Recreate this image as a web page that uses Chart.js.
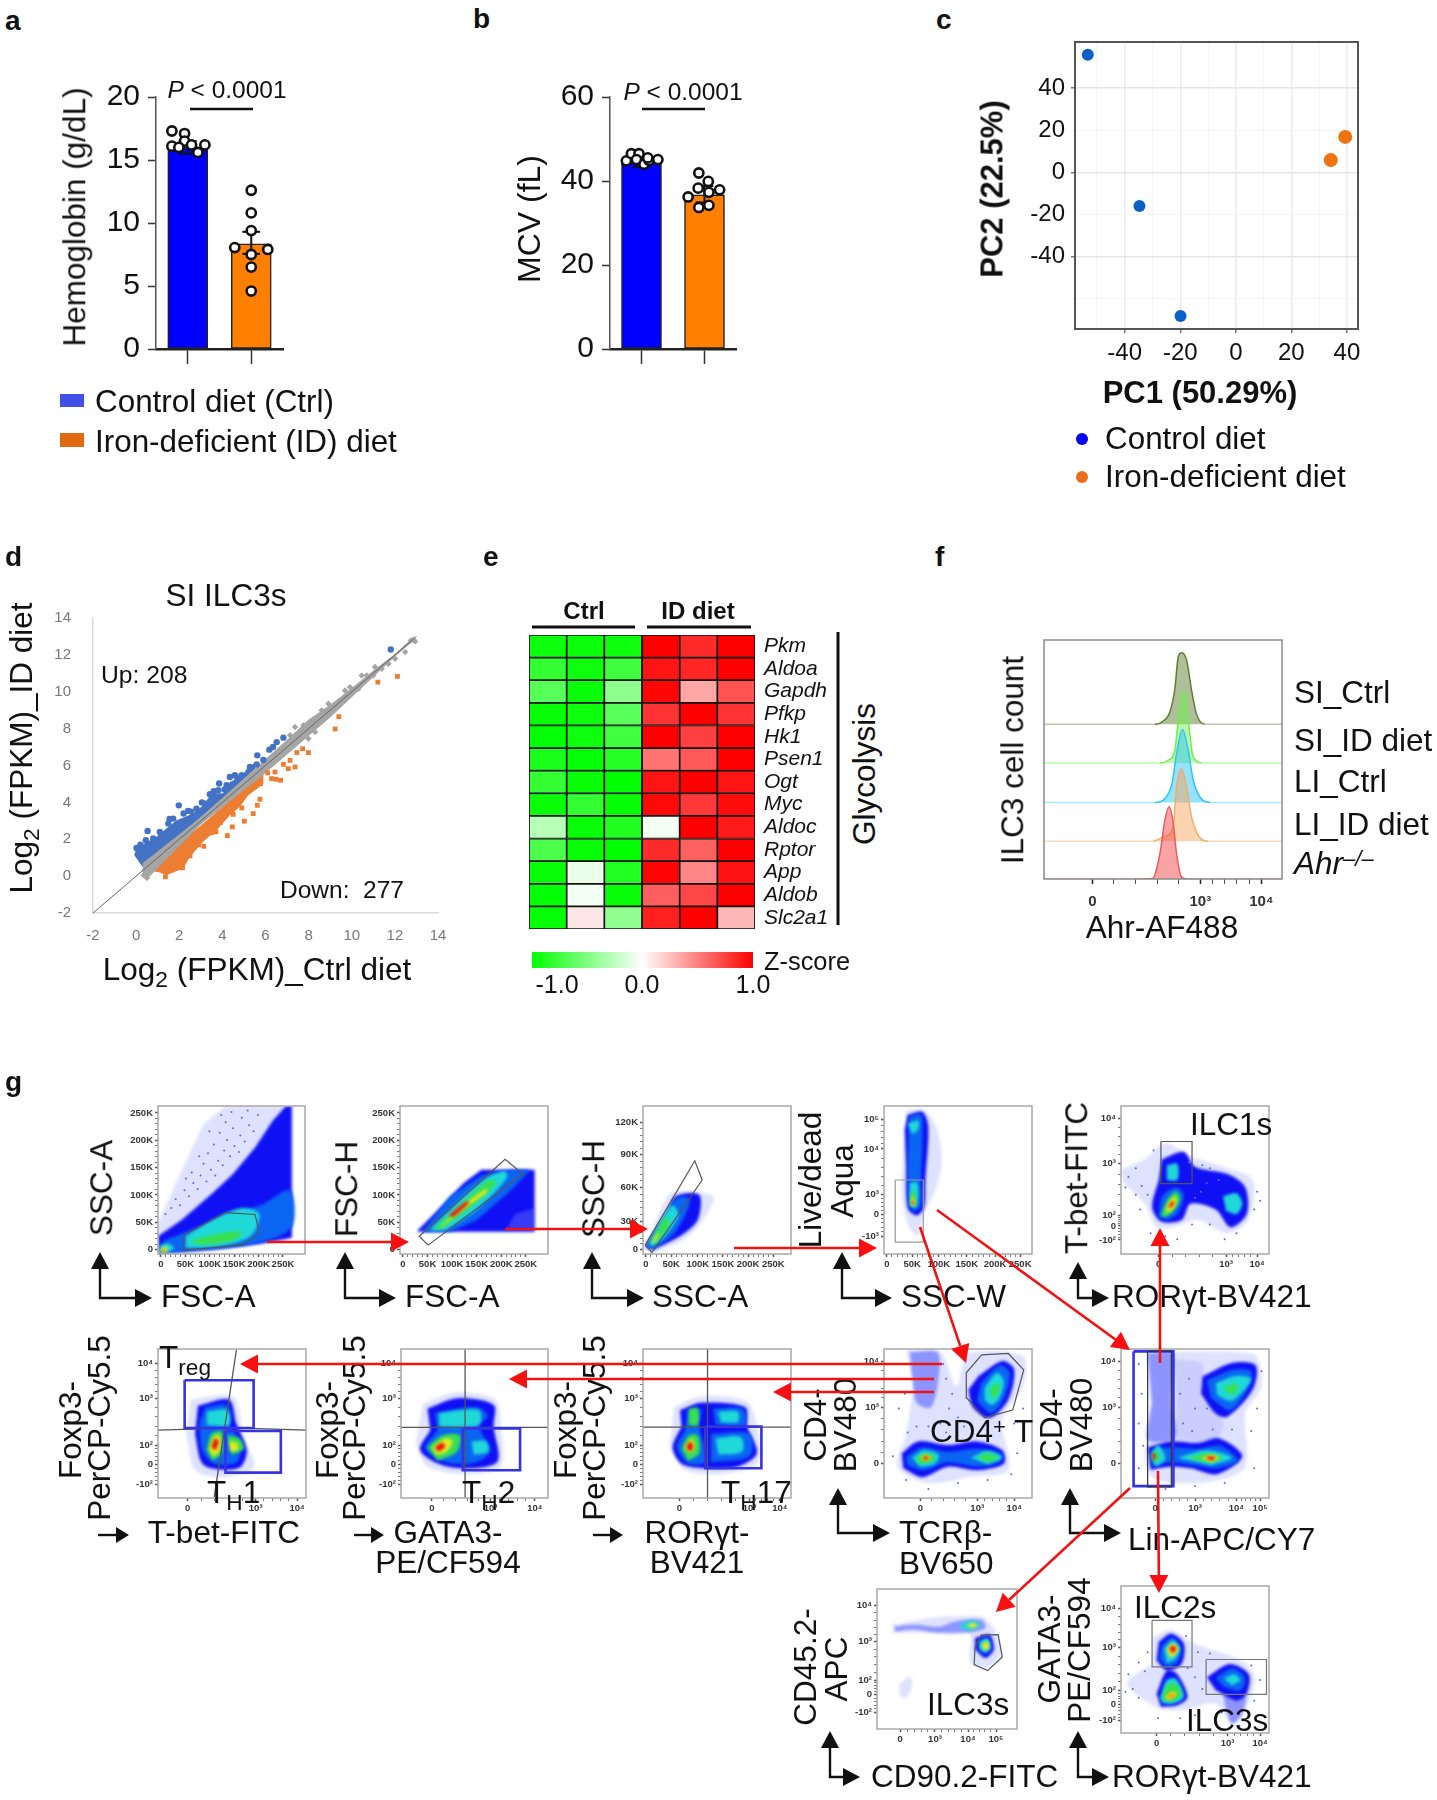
<!DOCTYPE html>
<html>
<head>
<meta charset="utf-8">
<title>Iron-deficient diet and ILC3s</title>
<script src="https://cdn.jsdelivr.net/npm/chart.js"></script>
<style>
  body { margin: 0; background: #fff; }
  #page { position: relative; width: 1437px; height: 1800px; overflow: hidden; font-family: "Liberation Sans", Arial, sans-serif; color: #111; }
  canvas { position: absolute; }
  .t { position: absolute; white-space: nowrap; line-height: 1; }
  sub { font-size: .72em; line-height: 0; vertical-align: -.28em; }
  sup { font-size: .7em; line-height: 0; vertical-align: .38em; }
  #overlay { position: absolute; left: 0; top: 0; }
</style>
</head>
<body>
<div id="page"></div>
<script>
// ---- data ----

// a: hemoglobin
const hbBars = [16.0, 8.35];
const hbCtrl = [[.75,17.3],[.95,17.1],[.75,16.1],[.95,16.5],[1.06,16.2],[1.16,15.6],[1.27,16.2],[.86,16.0]];
const hbIron = [[2,12.6],[2,10.8],[2,9.4],[1.74,8.05],[2.26,7.9],[2,7.5],[2,6.5],[2,4.6]];
const hbErr = [[16.0,16.5,15.5],[8.35,9.3,7.55]];
const hbTicks = [0,5,10,15,20];

// b: MCV
const mcvBars = [44.3, 36.7];
const mcvCtrl = [[.76,44.8],[.84,46.5],[.96,46.5],[.92,45.1],[1.04,44],[1.12,44.9],[1.26,45.1],[1.1,45.5]];
const mcvIron = [[1.91,41.9],[2.06,39.9],[1.9,38.3],[2.24,37.9],[2.07,37.3],[1.74,36.2],[1.91,33.7],[2.07,34.2]];
const mcvErr = [[44.3,45.2,43.4],[36.7,38.8,34.9]];
const mcvTicks = [0,20,40,60];

// c: PCA
const pcaControl = [[-53.3,55.7],[-34.7,-16],[-19.9,-68.1]];
const pcaIron = [[39.4,16.8],[34.2,5.8]];
const pcaXTicks = [-50,-40,-30,-20,-10,0,10,20,30,40];
const pcaYTicks = [-60,-40,-20,0,20,40];

// d: expression scatter
const maUp = [[11.81,12.29],[6.83,7.51],[6.52,7.27],[6.18,6.86],[5.62,6.55],[5.59,6.06],[5.28,5.92],[4.89,5.47],[4.58,5.47],[4.35,5.38],[4.2,4.93],[3.85,5.02],[3.81,4.66],[3.42,4.44],[3.19,3.93],[1.98,3.84],[1.72,3.12],[1.49,2.85],[.53,2.45],[.02,1.53],[1.21,2.22],[.79,2.04],[2.41,3.54],[2.8,3.66],[6.35,7.0],[5.9,6.3],[4.7,5.3],[4.1,4.7],[3.6,4.6],[3.05,4.0],[2.55,3.5],[2.2,3.4],[1.55,3.1],[1.1,2.4],[.45,1.95],[.2,1.7]];
const maDown = [[12.12,10.83],[11.21,10.52],[9.4,8.65],[9.23,7.98],[7.99,6.7],[7.72,6.91],[7.45,6.7],[7.37,5.92],[7.14,6.28],[7.06,5.83],[6.83,6.06],[6.7,5.2],[6.44,5.65],[6.28,5.29],[5.77,5.02],[5.74,4.17],[5.62,3.84],[5.43,3.39],[5.02,2.98],[4.46,2.67],[4.23,2.2],[3.7,2.4],[3.14,1.62],[1.36,-.04],[6.1,5.6],[6.5,5.25],[5.5,4.85],[4.9,3.7],[4.5,3.35],[3.9,2.9],[3.5,2.35],[2.9,1.7],[2.5,1.1],[2.15,.45],[1.8,.42]];
const maFlat = [[12.86,12.82],[12.74,12.78],[12.94,12.73],[12.48,12.15],[12.01,11.79],[11.7,11.52],[11.39,11.25],[11.08,11.34],[10.7,10.88],[10.46,10.88],[11,10.88],[10.31,10.16],[9.92,10.25],[9.69,10.07],[8.92,9.35],[8.6,8.99],[8.3,7.82],[7.99,7.45],[7.37,8.09],[7.76,8.18],[7.14,7.64],[.5,-.1],[.35,.05]];
const maFlatBand = [.3,.7, 3,3.2, 6,6.35, 7,7.4, 8,8.5, 9,9.3, 10,10.2, 11,11.15, 12,12.05, 12.8,12.9, 12.8,12.7, 12,11.9, 11,10.8, 10,9.7, 9,8.6, 8,7.6, 7,6.6, 6,5.6, 3,2.8, .6,-.05, .3,.1];
const maUpBand = [-.09,1.14, .05,1.59, .25,1.68, .94,2.13, 1.49,2.67, 1.87,3.03, 2.65,3.39, 3.11,3.84, 3.5,4.48, 4.04,4.5, 4.35,5.1, 4.89,5.4, 5.2,5.92, 5.59,6.19, 5.5,5.7, 3,3.2, 1,1.2, .3,.5];
const maDownBand = [.6,.3, 1.1,.2, 1.4,.05, 2.18,.41, 2.5,1.05, 3.1,1.86, 3.73,2.49, 4.35,3.3, 4.8,3.75, 5.2,4.39, 5.9,5.0, 5.9,5.65, 3,2.75, 1,.8];
const maTicks = [-2,0,2,4,6,8,10,12,14];
const maLine = [[-2,-2],[13,13]];

// e: glycolysis heat map (Ctrl x3, ID diet x3)
const genes = ['Pkm','Aldoa','Gapdh','Pfkp','Hk1','Psen1','Ogt','Myc','Aldoc','Rptor','App','Aldob','Slc2a1'];
const zScores = [
  [-.95,-.96,-.95,1,.83,1],
  [-.8,-.95,-.75,.92,.85,1],
  [-.65,-.97,-.45,.98,.35,.68],
  [-.97,-.95,-.65,.8,1,.8],
  [-.98,-.95,-.75,1,.75,1],
  [-.9,-.98,-.85,.55,.65,1],
  [-.8,-.97,-1,.92,1,.92],
  [-.97,-.8,-.98,.97,.78,.95],
  [-.28,-.97,-.87,-.05,1,.9],
  [-.7,-.97,-1,.83,.62,1],
  [-.97,-.08,-.87,.98,.47,.93],
  [-.98,-.05,-.97,.63,.72,1],
  [-.98,.1,-.43,.88,1,.28]
];

// f: Ahr histograms, one ridge per group
const ridgeXTicks = [[20.3,'0'],[65.7,'10³'],[91.3,'10⁴']];
const siCtrlHist = [[0,64.7],[46.6,64.7],[50.1,66.1],[52.9,69.9],[55,79.7],[56.4,93],[57.8,94.7],[59.9,91.7],[62,79],[64,69.2],[67.6,64.7],[100,64.7]];
const siIronHist = [[0,48.5],[48.7,48.5],[52.2,49.7],[55,53.9],[56.4,66.5],[58.7,78.4],[60.6,66.5],[62.2,53.2],[64,49.4],[66.2,48.5],[100,48.5]];
const liCtrlHist = [[0,32],[46.6,32],[50.8,33.7],[53.8,40],[55.7,52.5],[58.2,62.6],[60.6,53.9],[62.7,41.3],[65.5,34.3],[69.9,32],[100,32]];
const liIronHist = [[0,15.8],[45.9,15.8],[50.1,17.6],[54.3,21.8],[55.7,38.5],[57.8,45.9],[59.9,38.5],[62,26],[64.8,18.3],[69,15.8],[100,15.8]];
const ahrKoHist = [[0,0],[38.9,0],[45.6,.2],[48.7,10.6],[50.8,24.6],[52.6,30.2],[54.3,23.2],[55.7,10.6],[57.8,.8],[60,0],[100,0]];

// g: flow plots, axis position 0-100 on the transformed scale, each density
// level is an outline, as flat x,y lists
const kTicksA = [[2,'0'],[18.6,'50K'],[35.2,'100K'],[51.8,'150K'],[68.4,'200K'],[85,'250K']];
const kTicksAy = [[3,'0'],[21.5,'50K'],[39.9,'100K'],[58.4,'150K'],[76.8,'200K'],[95.3,'250K']];
const kTicksB = [[2,'0'],[19,'50K'],[37,'100K'],[54,'150K'],[71,'200K'],[88,'250K']];
const kTicksBy = [[3,'0'],[22,'30K'],[45,'60K'],[67,'90K'],[89,'120K']];
const kTicksC = [[2,'0'],[19,'50K'],[37,'100K'],[56,'150K'],[75,'200K'],[92,'250K']];
const aquaTicks = [[12,'-10³'],[27,'0'],[40,'10³'],[71,'10⁴'],[91,'10⁵']];
const tbetXTicks = [[25.5,'0'],[71,'10³'],[92,'10⁴']];
const tbetYTicks = [[9.5,'-10²'],[19,'0'],[26,'10²'],[61,'10³'],[91.5,'10⁴']];
const foxYTicks = [[9,'-10²'],[22.7,'0'],[35.5,'10²'],[67,'10³'],[90.6,'10⁴']];
const th1XTicks = [[20,'0'],[66,'10³'],[94,'10⁴']];
const th2XTicks = [[21,'0'],[61,'10³'],[91,'10⁴']];
const th17XTicks = [[24.6,'0'],[72,'10³'],[92.5,'10⁴']];
const tcrXTicks = [[24.6,'0'],[63,'10³'],[88,'10⁴']];
const cd4YTicks = [[23,'0'],[61,'10³'],[91.7,'10⁴']];
const linXTicks = [[23,'0'],[50,'10³'],[78,'10⁴'],[94,'10⁵']];
const cd90XTicks = [[16.5,'0'],[41.4,'10³'],[65,'10⁴'],[85,'10⁵']];
const cd45YTicks = [[12,'-10²'],[24.5,'0'],[35,'10²'],[62.6,'10³'],[88,'10⁴']];
const gataXTicks = [[24,'0'],[72,'10³'],[94,'10⁴']];
const gataYTicks = [[8.6,'-10²'],[19.3,'0'],[29,'10²'],[58,'10³'],[84.6,'10⁴']];

const scHalo = [0,21, 13,50, 31,88, 46,100, 91,100, 91,12, 87,9, 22,2, 0,0];
const scBlue = [0,12, 16,23, 37,41, 51,54, 66,72, 78,90, 87,100, 91,100, 91,11, 69,7, 37,3, 1,.5];
const scBright = [4,9, 22,16, 51,27, 72,34, 90,43, 91,18, 66,7, 22,2, 1,1];
const scCyan = [19,12, 37,23, 57,31, 69,27, 63,12, 40,5, 19,4];
const scGreen = [22,9, 43,14, 57,15, 51,9, 28,6];
const scDebris = [1.5,6, 7,7, 11,4, 4,.5, 1,1];
const scDebrisIn = [2,4, 6,5, 6,1.5, 2,1];
const scDebrisHot = [2.5,2, 4.5,2.5, 4,1];
const scGate = [17.6,12.8, 46,28, 66,26.7, 69,14.4, 57.3,6, 17.6,2.7];
const scDots = [9,31, 12,37, 15,33, 18,43, 21,39, 24,48, 27,44, 23,55, 29,53, 33,49, 31,61, 36,57, 39,53, 34,68, 41,63, 44,60, 38,74, 45,70, 49,66, 42,82, 47,77, 52,73, 55,69, 46,89, 51,85, 56,80, 59,76, 50,96, 57,92, 62,87, 65,83, 61,97, 68,94, 28,66, 35,83, 43,94, 19,51, 5,27];

const fsBlue = [12,16, 25,29, 43,48, 55,57, 91,57, 91,15, 12,15];
const fsSparse = [72,17, 78,27, 91,31, 91,17];
const fsBright = [15,15, 34,39, 55,53, 75,57, 88,57, 75,43, 52,23, 34,15];
const fsCyan = [20,16, 40,36, 58,51, 71,56, 72,51, 52,30, 31,16];
const fsGreen = [22.5,16.6, 43,35, 60,50, 65,48, 46,30, 28,17];
const fsYellow = [27,18, 43,33, 58,44, 59,42, 44,31, 29,19];
const fsRed = [33,26, 44,35, 47,35, 36,25];
const fsGate = [19,6, 13,12, 71,64, 83,54];

const shHalo = [1,3, 12,30, 20,42, 42,41, 48,38, 40,22, 28,10, 8,1];
const shBlue = [1.5,5, 16,27, 22,39, 38,40, 37,23, 25,12, 7,3];
const shBright = [2,5, 15,27, 23,38, 32,37, 22,15, 7,3];
const shCyan = [4,7, 14,25, 20,33, 24,26, 14,11, 6,5];
const shGreen = [5,7, 11,18, 15,25, 18,20, 10,9];
const shYellow = [6,7, 9,13, 11,14, 8,8];
const shGate = [1.5,6, 35,63, 40,50, 6,1];

const ldHalo = [15,97, 27,97.5, 36,84, 39,61, 34,41, 27,27, 23,12, 17,18, 12,39, 13,72];
const ldBlue = [16,94, 26,96, 30,86, 28,50, 27,31, 22,26, 16,31, 15,61, 14,84];
const ldBright = [17,93, 25,94, 26,81, 25,50, 25,33, 20,29, 17,34, 16,61];
const ldCyanTop = [16,88, 23,90, 23,84, 19,81];
const ldCyan = [17.5,48, 22.6,48, 22,32, 17.5,32];
const ldGreen = [18,42, 21,42, 21,33, 18,33];
const ldYellow = [18.5,38, 20.5,38, 20.5,33, 18.5,33];
const ldRed = [19,36, 20.2,36, 20.2,33.5, 19,33.5];
const ldGate = [7.6,50, 26.5,50, 26.5,8, 7.6,8];

const ilc1Halo = [0,57, 16,64, 30,75, 47,66, 69,59, 89,50, 86,23, 72,14, 52,23, 35,18, 24,18, 16,34, 1.4,48];
const ilc1Blue = [27.5,64, 42.5,69, 50,59, 72,54, 84,45, 85,27, 74,18, 64,30, 47,34, 41,23, 27,22, 21,32, 25.5,50];
const ilc1Bright = [25.5,25, 28,39, 37,45, 42.5,40, 38,27, 31,23];
const ilc1CyanUp = [31,60, 38,61, 38,50, 31,50];
const ilc1CyanRight = [69,39, 78,41, 82,34, 78,27, 71,29];
const ilc1Green = [27,26, 31,36, 37,42, 40,37.5, 35,28.5, 30,25];
const ilc1Yellow = [30,28.5, 33,36, 37,38.5, 37,33, 33,28.5];
const ilc1Red = [32,32, 35,36, 36,34, 33,31];
const ilc1Gate = [27,76, 48,76, 48,47.6, 27,47.6];
const ilc1Dots = [5,52, 10,58, 3,45, 14,46, 18,40, 10,40, 22,70, 46,62, 55,60, 60,58, 66,50, 92,42, 90,30, 78,14, 70,10, 48,20, 20,14, 30,12, 58,48, 54,42, 50,38, 94,36, 38,10, 60,20, 13,30];

const th1Halo = [22,66, 51,68, 58,41, 65,21, 45,14, 25,19, 19,43];
const th1Blue = [27,62, 48,66, 53,50, 60,32, 56,21, 43,19, 30,23, 25,43];
const th1Bright = [32,61, 47,62, 49,48, 56,37, 53,24, 38,23, 30,32, 28,50];
const th1CyanUp = [33,58, 47,59, 48,49, 33,49];
const th1Green = [33,32, 36,43, 43,44.5, 43,30, 37,25];
const th1Yellow = [34.5,33, 38.5,42, 42,41, 41.5,31, 37,28];
const th1Red = [36,34, 38.5,40, 41,38, 39,32];
const th1GreenRight = [46.5,42, 55,40, 58,33, 50,29];
const th1YellowRight = [48,38, 53,37, 54,32.5, 49,31];
const th1TregGate = [18,79, 64.6,79, 64.6,47, 18,47];
const th1Gate = [45.6,45, 83,45, 83,17, 45.6,17];
const th1Vertical = [53,99.5, 38,.7];
const th1Horizontal = [0,45.6, 51,47, 100,45.6];

const th2Halo = [15,63.6, 38,71, 64,66, 68,48, 68,21, 44.5,16, 18,21, 10,36.6];
const th2Blue = [18,60, 38,67, 63,62.5, 63,48, 66,25, 51,20, 28,22, 13,32, 20,45.6];
const th2Bright = [23,57, 51,61, 59,55, 53,48, 61,32, 51,24, 31,24, 16.5,33, 25,45.6];
const th2CyanUp = [26,57, 53,59, 53,49, 26,48];
const th2CyanRight = [48,38, 58,38, 59,31, 49.5,29];
const th2Green = [18,34, 28,42, 40,42, 38,31, 25,25];
const th2Yellow = [21.5,34, 30,40, 35,38.4, 31,31, 24,29];
const th2Red = [23,34, 28,37, 30,34.4, 25.5,31];
const th2Gate = [42,46.7, 81,46.7, 81,18.6, 42,18.6];
const th2Vertical = [43.6,100, 43.6,0];
const th2Horizontal = [0,47.4, 100,47.4];

const th17Halo = [21,61, 38,68, 70,65, 77,48, 77,23, 51,16, 28,19, 18,34];
const th17Blue = [25,59, 39,64, 69,61, 70.5,48, 77,30, 64,21, 41,20, 26,23, 20,34, 26,48];
const th17BrightLeft = [30,59, 39,60, 38,48, 43,25, 31,23, 23,34, 28.5,45.6];
const th17BrightUp = [47.5,60, 67,60, 69,49, 49,49];
const th17BrightDown = [46,43, 72,43, 72,28, 46,24];
const th17CyanDown = [49,40, 66,41, 67,31, 51,29];
const th17CyanUp = [51,58, 64,58, 64,51, 52.5,51];
const th17GreenUp = [31,60, 37,60, 37,49, 31,49];
const th17GreenDown = [26,33, 31,42, 37,42, 38,30, 30.5,25];
const th17Yellow = [28,34, 33,40, 35,34, 32,30];
const th17Red = [29,34, 32,38, 34,34, 32,31];
const th17Gate = [42,48, 80,48, 80,20, 42,20];
const th17Vertical = [43.6,100, 43.6,0];
const th17Horizontal = [0,47.6, 100,47.6];

const tcrHalo = [15,99.5, 37,99.5, 49,75, 57,97, 94,95, 94,75, 80,52, 84,19, 57,14, 29,10, 9,21, 15,43, 20,75];
const tcrColumn = [17.5,98, 36,98, 37,82, 32,61, 22,64, 19,82];
const tcrBlue = [64,82, 80,92, 88,86, 84,66, 71,53.5, 60,61, 57,72.6];
const tcrBright = [65.5,77, 78,89, 85,84, 81,67, 72.6,57, 63,65];
const tcrCyan = [68,74, 76.5,84, 81,78, 78,67, 72.6,62.5, 68,66];
const tcrGreen = [72,74, 76.5,77, 78,72.6, 74.6,67, 72,69];
const tcrBand = [12,30, 23,38, 43,35.5, 63,38, 80,32, 81,23, 63,18.6, 43,21, 26,14, 13,20];
const tcrBandBright = [15,27.6, 26,34, 43,31, 63,33, 79,30, 78,24, 63,21, 43,24, 27,18.6, 16,22];
const tcrCyanLeft = [19,27, 27,32, 37,29, 34.5,23, 24.6,21];
const tcrGreenLeft = [21.6,27, 28,30, 35,27, 30,23.6, 23,23];
const tcrYellowLeft = [24.6,27, 28,29, 32,27, 28,24.7];
const tcrRedLeft = [26,27, 28,28, 30.6,27, 28,25.4];
const tcrCyanRight = [58.5,27, 70,31.5, 80,27, 70,22.7];
const tcrGreenRight = [63,27, 70,30, 77,27, 70,24];
const tcrGate = [66,96, 84,97, 94.4,86, 87,59, 68,54, 56,67, 55.6,84];
const tcrDots = [10,60, 14,70, 12,80, 12,90, 40,90, 42,80, 46,70, 44,60, 50,54, 54,48, 38,50, 30,48, 22,48, 16,44, 88,50, 90,30, 86,16, 70,12, 50,10, 30,6, 15,12, 6,28, 94,60, 42,44, 58,50];

const linHalo = [18,98, 89,97, 95,75, 84,57, 84,21, 61,11, 24,12, 16,25, 20,52];
const linColumn = [18,97, 35,97, 34,64, 37,41, 18,39, 21,64];
const linMiddle = [37,93, 55,90, 54,68, 69,52, 64,39, 38,39];
const linBlue = [55,81.6, 75,90.6, 91,89, 89,72.6, 72,54.6, 64,56.6, 54,70];
const linBright = [58,79, 76,86, 88,85, 86,74, 74,59, 61,67];
const linCyan = [64,77, 78,82, 88,80, 81,70, 74,65, 65,69];
const linGreen = [69,74, 78,77, 78,71, 74,69];
const linBand = [18,34, 33,38, 52,37, 66.6,40, 82,28, 65,16, 47,20, 33,21, 20,19];
const linBandBright = [20,32, 33,34, 52,33, 67,35, 79,25, 65,20, 49.5,22, 33,24, 21,21];
const linCyanLeft = [20,28, 25,35.5, 30,26.5, 24,21];
const linGreenLeft = [21,27.6, 23,32, 26,27.6, 23,23];
const linRedLeft = [21,28, 22,30.5, 23.5,28, 22,25];
const linCyanRight = [38,27, 58,32, 75,27, 61,22];
const linGreenRight = [45,27, 58,30, 69,27, 61,23.6];
const linYellowRight = [54,26.6, 61,29, 66,27, 61,24];
const linRedRight = [57,27, 61,28, 64,27, 61,25];
const linGate = [18,98.4, 34,98.4, 34,7.4, 18,7.4];
const linBlueGate = [8.5,98.4, 35.4,98.4, 35.4,8, 8.5,8];
const linDots = [12,50, 14,70, 12,90, 15,35, 40,70, 46,80, 50,60, 42,50, 62,46, 75,46, 88,45, 92,60, 95,85, 90,20, 70,10, 50,8, 30,6, 12,20, 58,60, 48,45];

const cd90Halo = [11,74.5, 35.5,79, 59,80.5, 77.5,79, 89.5,56.7, 80.5,44.8, 67,47, 65.5,68.6, 38,68.6, 11,68.6];
const cd90Band = [12.6,73, 26.4,74.5, 44.4,73, 56.5,77, 74.6,78, 77.5,72, 62,68.6, 44,68.6, 26,71, 13,69.6];
const cd90CyanUp = [59.5,74.5, 67,77.6, 74.5,74.5, 67,70.5, 61,71.4];
const cd90YellowUp = [64,74, 68,75.7, 72,74, 67.8,72];
const cd90Blue = [70,65, 80.5,67.4, 83.5,56.7, 77.5,50.7, 70,56.7];
const cd90Cyan = [73,62.6, 79,65, 81.5,57.8, 77.5,54.3, 73,56.7];
const cd90Yellow = [74.5,60, 79,62.6, 80,57.8, 77,56.2];
const cd90Low = [16,31.7, 23.4,37.6, 25,30.5, 20.4,22, 16,24.5];
const cd90Gate = [70,58, 74.5,67, 86.5,67.4, 89.5,51.4, 79,41.7, 69.4,46];

const gataHalo = [21,65, 34,70, 49.6,61, 81,49.4, 90.6,38, 83.6,15.4, 75,6.3, 64,20, 41,15.4, 24,17.7, 4,33.6, 21,47];
const gataBlueUp = [25.5,62, 34,67.6, 42.5,60.8, 41,47, 31,42.6, 24,49.4];
const gataBrightUp = [27.5,59.6, 34.6,65, 40.5,58.5, 38,48, 31,45, 26,50.6];
const gataCyanUp = [29,57.4, 35,63, 39.6,57.4, 37,50.6, 31,47.6];
const gataYellowUp = [31,57.4, 35,61, 39,57.4, 35.4,52, 32.6,52];
const gataRedUp = [32.6,57.4, 35,59.6, 37.4,57.4, 35,54];
const gataBlueDown = [24,26.8, 31,42.6, 38,40, 45,24.5, 38,18.8, 27,17.7];
const gataCyanDown = [26.3,23.4, 31,36, 37,37, 42.5,24.5, 35.4,20, 28.4,20];
const gataGreenDown = [27.8,23.4, 31,32.4, 37,33.6, 40.5,25.6, 34,21];
const gataYellowDown = [29.7,24.5, 34,27.9, 38,26.8, 32.6,22.2];
const gataOrangeDown = [31,25, 35.4,26.8, 36.8,25.6, 32.6,23.4];
const gataBlueRight = [58,38, 73.6,47, 86.4,40, 85,26.8, 78,22, 64,29];
const gataBrightRight = [64,37.4, 75,43.8, 83.6,38, 80.7,29, 69.4,31.3];
const gataCyanRight = [69.4,37, 76.5,40, 80.7,35.8, 75,32.4];
const gataTail = [69,26.8, 83.6,26.8, 82,13, 75,6.3, 71,15.4];
const gataIlc2Gate = [21,76.6, 48,76.6, 48,45, 21,45];
const gataIlc3Gate = [57.5,50, 98.3,50, 98.3,26.3, 57.5,26.3];
const gataDots = [5,40, 8,30, 12,24, 16,42, 12,48, 18,55, 44,66, 52,55, 60,54, 88,46, 94,36, 90,22, 80,5, 68,14, 50,12, 40,10, 25,10, 55,30, 50,38, 45,44, 3,28];

// ---- layout and styles ----
const blue = '#0000ff', orange = '#ff7f00';
const HALO = 'rgba(150,158,255,.3)', PALE = 'rgba(60,70,255,.5)', BLUE = '#1010f5', BRIGHT = '#0a66f2',
      CYAN = '#1fd8d8', GREEN = '#38e050', YELLOW = '#e6e820', ORANGE = '#ff8c00', RED = '#f01010';
const GATE = '#555', BLUEGATE = '#3434e6';

const font = '"Liberation Sans", Arial, sans-serif';
Chart.defaults.font.family = font;
const page = document.getElementById('page');

const frame = {
  id: 'frame',
  afterDraw(c, args, o) {
    const a = c.chartArea, ctx = c.ctx;
    ctx.save();
    ctx.filter = 'none';
    ctx.strokeStyle = o.color || '#a8a8a8';
    ctx.lineWidth = o.width || 1.5;
    ctx.strokeRect(a.left, a.top, a.right - a.left, a.bottom - a.top);
    ctx.restore();
  }
};

// density levels look stepped when crisp, the originals are soft
const soft = {
  id: 'soft',
  beforeDatasetsDraw(c, args, o) { c.ctx.filter = 'blur(' + (o.px || 1.4) + 'px)'; },
  afterDatasetDraw(c, args) {
    const next = c.data.datasets[args.index - 1];
    if (!next || next.crisp) c.ctx.filter = 'none';
  }
};

function mount(box, config, yRight) {
  const M = 90;
  const [l, t, r, b] = box.map(Math.round);
  const canvas = document.createElement('canvas');
  canvas.width = r - l + 2 * M;
  canvas.height = b - t + 2 * M;
  canvas.style.left = (l - M) + 'px';
  canvas.style.top = (t - M) + 'px';
  page.appendChild(canvas);
  const o = config.options;
  o.animation = false;
  o.responsive = false;
  o.layout = { padding: yRight ? { left: M, right: 2, top: M, bottom: 2 } : { left: 2, right: M, top: M, bottom: 2 } };
  o.scales.x.afterFit = s => { s.height = M - 2; };
  o.scales.y.afterFit = s => { s.width = M - 2; };
  o.plugins = Object.assign({ legend: { display: false }, tooltip: { enabled: false } }, o.plugins);
  return new Chart(canvas, config);
}

const pairs = flat => {
  const out = [];
  for (let i = 0; i < flat.length; i += 2) out.push([flat[i], flat[i + 1]]);
  return out;
};

function barPanel(box, bars, ctrl, iron, err, ticks) {
  const errorLines = [];
  err.forEach((e, i) => {
    const x = i + 1;
    [[[x - .14, e[1]], [x + .14, e[1]]], [[x, e[1]], [x, e[2]]], [[x - .14, e[2]], [x + .14, e[2]]]].forEach(seg => {
      errorLines.push({ type: 'scatter', showLine: true, data: seg, borderColor: '#111', borderWidth: 2, pointRadius: 0 });
    });
  });
  const dots = data => ({ type: 'scatter', data, pointRadius: 4.6, pointBorderWidth: 2.6, pointBackgroundColor: '#fff', pointBorderColor: '#111' });
  mount(box, {
    type: 'bar',
    data: {
      datasets: [dots(ctrl), dots(iron), ...errorLines, {
        type: 'bar',
        data: bars.map((v, i) => ({ x: i + 1, y: v })),
        backgroundColor: [blue, orange],
        borderColor: '#222',
        borderWidth: 1.5,
        borderSkipped: false,
        barThickness: 40
      }]
    },
    options: {
      scales: {
        x: {
          type: 'linear', min: .5, max: 2.5, offset: false,
          afterBuildTicks(s) { s.ticks = [{ value: 1 }, { value: 2 }]; },
          ticks: { callback: () => '', padding: 0 },
          grid: { offset: false, drawOnChartArea: false, tickLength: 15, tickColor: '#333', tickWidth: 1.5 },
          border: { color: '#222', width: 2.5 }
        },
        y: {
          type: 'linear', min: 0, max: ticks[ticks.length - 1],
          afterBuildTicks(s) { s.ticks = ticks.map(v => ({ value: v })); },
          ticks: { font: { size: 30 }, color: '#111', padding: 8 },
          grid: { drawOnChartArea: false, tickLength: 8, tickColor: '#333', tickWidth: 1.5 },
          border: { color: '#555', width: 1.5 }
        }
      }
    }
  });
}

barPanel([156, 97, 283, 349], hbBars, hbCtrl, hbIron, hbErr, hbTicks);
barPanel([610, 97, 736, 349], mcvBars, mcvCtrl, mcvIron, mcvErr, mcvTicks);

// c
mount([1075, 42, 1358, 329], {
  type: 'scatter',
  data: {
    datasets: [
      { data: pcaControl, pointRadius: 6, pointBackgroundColor: '#0a5fc8', pointBorderWidth: 0 },
      { data: pcaIron, pointRadius: 7, pointBackgroundColor: '#ef7215', pointBorderWidth: 0 }
    ]
  },
  options: {
    plugins: { frame: { color: '#555', width: 2 } },
    scales: {
      x: {
        type: 'linear', min: -57.9, max: 44,
        afterBuildTicks(s) { s.ticks = pcaXTicks.map(v => ({ value: v })); },
        ticks: { autoSkip: false, maxRotation: 0, font: { size: 24 }, color: '#111', padding: 6, callback: v => v % 20 === 0 ? String(v) : '' },
        grid: {
          color: c => c.tick && c.tick.value % 20 === 0 ? '#ececec' : '#f5f5f5',
          lineWidth: c => c.tick && c.tick.value % 20 === 0 ? 1.5 : 1,
          tickLength: 4,
          tickColor: c => c.tick && c.tick.value % 20 === 0 ? '#777' : 'rgba(0,0,0,0)'
        },
        border: { display: false }
      },
      y: {
        type: 'linear', min: -74.3, max: 61.8,
        afterBuildTicks(s) { s.ticks = pcaYTicks.map(v => ({ value: v })); },
        ticks: { autoSkip: false, font: { size: 24 }, color: '#111', padding: 6, callback: v => v === -60 ? '' : String(v) },
        grid: {
          color: c => c.tick && c.tick.value % 40 === 0 ? '#e6e6e6' : '#f5f5f5',
          lineWidth: c => c.tick && c.tick.value % 40 === 0 ? 1.5 : 1,
          tickLength: 4,
          tickColor: c => c.tick && c.tick.value % 40 === 0 ? '#777' : 'rgba(0,0,0,0)'
        },
        border: { display: false }
      }
    }
  },
  plugins: [frame]
});

// d
const band = (flat, color) => ({ data: pairs(flat), showLine: true, fill: 'shape', backgroundColor: color, borderWidth: 0, borderColor: color, pointRadius: 0, tension: 0 });
mount([93, 618, 438, 913], {
  type: 'scatter',
  data: {
    datasets: [
      { crisp: true, data: maLine, showLine: true, borderColor: '#666', borderWidth: 1, pointRadius: 0 },
      { crisp: true, data: maUp, pointRadius: 3.2, pointBackgroundColor: '#4472c4', pointBorderWidth: 0 },
      { crisp: true, data: maDown, pointStyle: 'rect', pointRadius: 3.4, pointBackgroundColor: '#ed7d31', pointBorderWidth: 0 },
      { crisp: true, data: maFlat, pointStyle: 'rectRot', pointRadius: 3.2, pointBackgroundColor: '#a5a5a5', pointBorderWidth: 0 },
      band(maFlatBand, '#a5a5a5'),
      band(maUpBand, '#4472c4'),
      band(maDownBand, '#ed7d31')
    ]
  },
  options: {
    plugins: { soft: { px: .7 } },
    scales: {
      x: {
        type: 'linear', min: -2, max: 14,
        afterBuildTicks(s) { s.ticks = maTicks.map(v => ({ value: v })); },
        ticks: { font: { size: 15 }, color: '#777', padding: 6, maxRotation: 0 },
        grid: { display: false },
        border: { color: '#d9d9d9', width: 1.5 }
      },
      y: {
        type: 'linear', min: -2, max: 14,
        afterBuildTicks(s) { s.ticks = maTicks.map(v => ({ value: v })); },
        ticks: { font: { size: 15 }, color: '#777', padding: 14 },
        grid: { display: false },
        border: { color: '#d9d9d9', width: 1.5 }
      }
    }
  },
  plugins: [soft]
});

// e
const zColor = z => {
  const k = Math.round(255 * (1 - Math.abs(z)));
  return z < 0 ? 'rgb(' + k + ',255,' + k + ')' : 'rgb(255,' + k + ',' + k + ')';
};
mount([529, 635, 755, 929], {
  type: 'bar',
  data: {
    labels: genes,
    datasets: [0, 1, 2, 3, 4, 5].map(col => ({
      data: genes.map(() => 1),
      backgroundColor: zScores.map(row => zColor(row[col])),
      borderColor: '#111',
      borderWidth: 1.2,
      borderSkipped: false,
      barPercentage: 1,
      categoryPercentage: 1
    }))
  },
  options: {
    indexAxis: 'y',
    scales: {
      x: { type: 'linear', stacked: true, min: 0, max: 6, ticks: { display: false }, grid: { display: false }, border: { display: false } },
      y: {
        type: 'category', stacked: true, position: 'right',
        ticks: { autoSkip: false, font: { size: 21, style: 'italic' }, color: '#111', padding: 9 },
        grid: { display: false, drawTicks: false },
        border: { display: false }
      }
    }
  }
}, true);

// shared axis for f and the flow plots: labelled ticks plus small unlabelled ones between them
function flowAxis(labelled, fontSize, tickLen, pad, tickColor) {
  const names = {};
  labelled.forEach(p => { names[p[0]] = p[1]; });
  return {
    type: 'linear', min: 0, max: 100,
    afterBuildTicks(s) {
      const out = [];
      labelled.forEach((p, i) => {
        out.push({ value: p[0] });
        const nx = labelled[i + 1];
        if (nx) for (let k = 1; k < 5; k++) out.push({ value: p[0] + (nx[0] - p[0]) * k / 5 });
      });
      s.ticks = out;
    },
    ticks: {
      autoSkip: false, maxRotation: 0, minRotation: 0,
      font: { size: fontSize, weight: 'bold' }, color: '#333', padding: pad,
      callback: v => names[v] || ''
    },
    grid: {
      drawOnChartArea: false, tickLength: tickLen, tickColor: tickColor || '#555',
      tickWidth: c => c.tick && names[c.tick.value] ? 1.5 : .8
    },
    border: { display: false }
  };
}

// f
const ridge = (data, line, pale, fill, base) => ({
  data, showLine: true, fill: { value: base }, borderColor: line, backgroundColor: fill,
  borderWidth: 1.5, pointRadius: 0, cubicInterpolationMode: 'monotone',
  segment: { borderColor: c => c.p0.parsed.y === c.p1.parsed.y ? pale : line }
});
mount([1044, 640, 1282, 879], {
  type: 'scatter',
  data: {
    datasets: [
      ridge(ahrKoHist, '#f25a5a', '#f7b5b5', 'rgba(242,90,90,.55)', 0),
      ridge(liIronHist, '#f5ab68', '#f9d8ba', 'rgba(245,170,100,.5)', 15.8),
      ridge(liCtrlHist, '#2cc6f5', '#a8e6fa', 'rgba(44,198,245,.5)', 32),
      ridge(siIronHist, '#6cf04a', '#b8f8a8', 'rgba(108,240,74,.45)', 48.5),
      ridge(siCtrlHist, '#5f7f33', '#bccaa8', 'rgba(95,127,51,.5)', 64.7)
    ]
  },
  options: {
    plugins: { frame: { color: '#8a8a8a', width: 1.5 } },
    scales: {
      x: flowAxis(ridgeXTicks, 15, 5, 9, '#222'),
      y: { type: 'linear', min: 0, max: 100, ticks: { display: false }, grid: { display: false }, border: { display: false } }
    }
  },
  plugins: [frame]
});

// g
// a level may carry a third item: true keeps its outline straight, for regions cut off by the axis range
const flowPanels = [
  { box: [158, 1106, 305, 1254], x: kTicksA, y: kTicksAy, dots: scDots,
    levels: [[HALO, scHalo, true], [BLUE, scBlue, true], [BRIGHT, scBright], [CYAN, scCyan], [GREEN, scGreen], [CYAN, scDebris], [YELLOW, scDebrisIn], [RED, scDebrisHot]],
    gates: [[GATE, 1.2, scGate]] },
  { box: [400, 1106, 548, 1254], x: kTicksA, y: kTicksAy,
    levels: [[BLUE, fsBlue, true], [HALO, fsSparse, true], [BRIGHT, fsBright, true], [CYAN, fsCyan], [GREEN, fsGreen], [YELLOW, fsYellow], [RED, fsRed]],
    gates: [[GATE, 1.2, fsGate]] },
  { box: [643, 1106, 791, 1254], x: kTicksB, y: kTicksBy,
    levels: [[HALO, shHalo], [BLUE, shBlue], [BRIGHT, shBright], [CYAN, shCyan], [GREEN, shGreen], [YELLOW, shYellow]],
    gates: [[GATE, 1.2, shGate]] },
  { box: [884, 1106, 1032, 1254], x: kTicksC, y: aquaTicks,
    levels: [[HALO, ldHalo], [BLUE, ldBlue], [BRIGHT, ldBright], [CYAN, ldCyanTop], [CYAN, ldCyan], [GREEN, ldGreen], [YELLOW, ldYellow], [RED, ldRed]],
    gates: [['#999', 1.2, ldGate]] },
  { box: [1121, 1106, 1269, 1254], x: tbetXTicks, y: tbetYTicks, dots: ilc1Dots,
    levels: [[HALO, ilc1Halo], [BLUE, ilc1Blue], [BRIGHT, ilc1Bright], [CYAN, ilc1CyanUp], [CYAN, ilc1CyanRight], [GREEN, ilc1Green], [YELLOW, ilc1Yellow], [RED, ilc1Red]],
    gates: [[GATE, 1.2, ilc1Gate]] },
  { box: [158, 1349, 306, 1498], x: th1XTicks, y: foxYTicks,
    levels: [[HALO, th1Halo], [BLUE, th1Blue], [BRIGHT, th1Bright], [CYAN, th1CyanUp], [GREEN, th1Green], [YELLOW, th1Yellow], [RED, th1Red], [GREEN, th1GreenRight], [YELLOW, th1YellowRight]],
    gates: [[BLUEGATE, 2.6, th1TregGate], [BLUEGATE, 2.6, th1Gate], ['#555', 1.3, th1Vertical, true], ['#555', 1.3, th1Horizontal, true]] },
  { box: [401, 1349, 548, 1498], x: th2XTicks, y: foxYTicks,
    levels: [[HALO, th2Halo], [BLUE, th2Blue], [BRIGHT, th2Bright], [CYAN, th2CyanUp], [CYAN, th2CyanRight], [GREEN, th2Green], [YELLOW, th2Yellow], [RED, th2Red]],
    gates: [[BLUEGATE, 2.6, th2Gate], ['#555', 1.3, th2Vertical, true], ['#555', 1.3, th2Horizontal, true]] },
  { box: [643, 1349, 791, 1498], x: th17XTicks, y: foxYTicks,
    levels: [[HALO, th17Halo], [BLUE, th17Blue], [BRIGHT, th17BrightLeft], [BRIGHT, th17BrightUp], [BRIGHT, th17BrightDown], [CYAN, th17CyanDown], [CYAN, th17CyanUp], [GREEN, th17GreenUp], [GREEN, th17GreenDown], [YELLOW, th17Yellow], [RED, th17Red]],
    gates: [[BLUEGATE, 2.6, th17Gate], ['#555', 1.3, th17Vertical, true], ['#555', 1.3, th17Horizontal, true]] },
  { box: [884, 1349, 1032, 1498], x: tcrXTicks, y: cd4YTicks, dots: tcrDots,
    levels: [[HALO, tcrHalo], [PALE, tcrColumn], [BLUE, tcrBlue], [BRIGHT, tcrBright], [CYAN, tcrCyan], [GREEN, tcrGreen], [BLUE, tcrBand], [BRIGHT, tcrBandBright], [CYAN, tcrCyanLeft], [GREEN, tcrGreenLeft], [YELLOW, tcrYellowLeft], [RED, tcrRedLeft], [CYAN, tcrCyanRight], [GREEN, tcrGreenRight]],
    gates: [[GATE, 1.2, tcrGate]] },
  { box: [1121, 1349, 1269, 1498], x: linXTicks, y: cd4YTicks, dots: linDots,
    levels: [[HALO, linHalo], [HALO, linMiddle], [PALE, linColumn], [BLUE, linBlue], [BRIGHT, linBright], [CYAN, linCyan], [GREEN, linGreen], [BLUE, linBand], [BRIGHT, linBandBright], [CYAN, linCyanRight], [GREEN, linGreenRight], [YELLOW, linYellowRight], [RED, linRedRight], [CYAN, linCyanLeft], [GREEN, linGreenLeft], [RED, linRedLeft]],
    gates: [['#333', 1.2, linGate], [BLUEGATE, 2.6, linBlueGate]] },
  { box: [877, 1589, 1017, 1729], x: cd90XTicks, y: cd45YTicks,
    levels: [[HALO, cd90Halo], [HALO, cd90Low], [PALE, cd90Band], [CYAN, cd90CyanUp], [YELLOW, cd90YellowUp], [BLUE, cd90Blue], [CYAN, cd90Cyan], [YELLOW, cd90Yellow]],
    gates: [[GATE, 1.2, cd90Gate]] },
  { box: [1121, 1586, 1269, 1733], x: gataXTicks, y: gataYTicks, dots: gataDots,
    levels: [[HALO, gataHalo], [BLUE, gataBlueUp], [BRIGHT, gataBrightUp], [CYAN, gataCyanUp], [YELLOW, gataYellowUp], [RED, gataRedUp], [BLUE, gataBlueDown], [CYAN, gataCyanDown], [GREEN, gataGreenDown], [YELLOW, gataYellowDown], [ORANGE, gataOrangeDown], [PALE, gataTail], [BLUE, gataBlueRight], [BRIGHT, gataBrightRight], [CYAN, gataCyanRight]],
    gates: [['#777', 1.2, gataIlc2Gate], ['#777', 1.2, gataIlc3Gate]] }
];

flowPanels.forEach(p => {
  const gateSets = p.gates.map(g => ({
    crisp: true, showLine: true, pointRadius: 0, borderColor: g[0], borderWidth: g[1], tension: 0,
    data: pairs(g[3] ? g[2] : g[2].concat(g[2].slice(0, 2)))
  }));
  const dotSets = p.dots ? [{ crisp: true, data: pairs(p.dots), pointRadius: 1, pointBackgroundColor: '#5a62ff', pointBorderWidth: 0 }] : [];
  // first dataset is drawn last, so the hottest level goes in front
  const levelSets = p.levels.slice().reverse().map(l => ({
    showLine: true, fill: 'shape', pointRadius: 0, borderWidth: 0, borderColor: l[0], backgroundColor: l[0],
    tension: l[2] ? 0 : .3, data: pairs(l[1])
  }));
  mount(p.box, {
    type: 'scatter',
    data: { datasets: gateSets.concat(dotSets, levelSets) },
    options: {
      plugins: { soft: { px: 1.6 }, frame: { color: '#a8a8a8', width: 1.5 } },
      scales: { x: flowAxis(p.x, 9.5, 3, 2), y: flowAxis(p.y, 9.5, 3, 2) }
    },
    plugins: [soft, frame]
  });
});

// ---- text: [html, x, y, size, anchor, extra css] ; anchor c centre, l left, r rotated ----
const L = 31.5;
const texts = [
  ['a', 5, 21, 28, 'l', 'font-weight:bold'], ['b', 473, 19, 28, 'l', 'font-weight:bold'], ['c', 936, 20, 28, 'l', 'font-weight:bold'],
  ['d', 5, 557, 28, 'l', 'font-weight:bold'], ['e', 483, 557, 28, 'l', 'font-weight:bold'], ['f', 935, 557, 28, 'l', 'font-weight:bold'],
  ['g', 5, 1082, 28, 'l', 'font-weight:bold'],

  ['Hemoglobin (g/dL)', 75, 217, L, 'r'], ['MCV (fL)', 529, 219, 32, 'r'],
  ['<i>P</i> &lt; 0.0001', 227, 90, 24.5, 'c'], ['<i>P</i> &lt; 0.0001', 683, 92, 24.5, 'c'],
  ['Control diet (Ctrl)', 95, 402, 31.4, 'l'], ['Iron-deficient (ID) diet', 95, 442, 31.4, 'l'],

  ['PC2 (22.5%)', 992, 189, 31, 'r', 'font-weight:bold'], ['PC1 (50.29%)', 1200, 392, 31, 'c', 'font-weight:bold'],
  ['Control diet', 1105, 439, 31.4, 'l'], ['Iron-deficient diet', 1105, 477, 31.4, 'l'],

  ['SI ILC3s', 226, 596, L, 'c'], ['Up: 208', 101, 675, 24.7, 'l'], ['Down:&nbsp; 277', 280, 890, 24.5, 'l'],
  ['Log<sub>2</sub> (FPKM)_ID diet', 22, 748, L, 'r'], ['Log<sub>2</sub> (FPKM)_Ctrl diet', 257, 970, L, 'c'],

  ['Ctrl', 584, 611, 24, 'c', 'font-weight:bold'], ['ID diet', 698, 611, 24, 'c', 'font-weight:bold'],
  ['Glycolysis', 865, 774, L, 'r'], ['Z-score', 764, 962, 25.4, 'l'],
  ['-1.0', 557, 984, 25, 'c'], ['0.0', 642, 984, 25, 'c'], ['1.0', 753, 984, 25, 'c'],

  ['ILC3 cell count', 1013, 760, L, 'r'], ['Ahr-AF488', 1162, 928, L, 'c'],
  ['SI_Ctrl', 1294, 693, L, 'l'], ['SI_ID diet', 1294, 741, L, 'l'], ['LI_Ctrl', 1294, 782, L, 'l'], ['LI_ID diet', 1294, 825, L, 'l'],
  ['<i>Ahr<sup>–/–</sup></i>', 1294, 864, L, 'l'],

  ['SSC-A', 102, 1188, L, 'r'], ['FSC-H', 347, 1189, L, 'r'], ['SSC-H', 594, 1189, L, 'r'],
  ['Live/dead', 811, 1180, L, 'r'], ['Aqua', 843, 1181, L, 'r'], ['T-bet-FITC', 1077, 1178, L, 'r'],
  ['FSC-A', 161, 1297, L, 'l'], ['FSC-A', 405, 1297, L, 'l'], ['SSC-A', 652, 1297, L, 'l'],
  ['SSC-W', 901, 1297, L, 'l'], ['RORγt-BV421', 1112, 1297, L, 'l'], ['ILC1s', 1190, 1125, L, 'l'],

  ['Foxp3-', 71, 1430, L, 'r'], ['PerCP-Cy5.5', 100, 1428, L, 'r'],
  ['Foxp3-', 328, 1430, L, 'r'], ['PerCP-Cy5.5', 355, 1428, L, 'r'],
  ['Foxp3-', 566, 1430, L, 'r'], ['PerCP-Cy5.5', 595, 1428, L, 'r'],
  ['T-bet-FITC', 224, 1533, L, 'c'], ['GATA3-', 448, 1533, L, 'c'], ['PE/CF594', 448, 1563, L, 'c'],
  ['RORγt-', 697, 1533, L, 'c'], ['BV421', 697, 1563, L, 'c'],
  ['T<sub>reg</sub>', 159, 1358, L, 'l'], ['T<sub>H</sub>1', 207, 1493, L, 'l'], ['T<sub>H</sub>2', 462, 1493, L, 'l'], ['T<sub>H</sub>17', 721, 1493, L, 'l'],

  ['CD4-', 816, 1425, L, 'r'], ['BV480', 846, 1425, L, 'r'], ['CD4-', 1052, 1425, L, 'r'], ['BV480', 1082, 1425, L, 'r'],
  ['CD4<sup>+</sup> T', 930, 1432, L, 'l'],
  ['TCRβ-', 899, 1533, L, 'l'], ['BV650', 899, 1564, L, 'l'], ['Lin-APC/CY7', 1128, 1540, L, 'l'],

  ['CD45.2-', 806, 1667, L, 'r'], ['APC', 837, 1669, L, 'r'], ['GATA3-', 1050, 1649, L, 'r'], ['PE/CF594', 1080, 1650, L, 'r'],
  ['ILC3s', 927, 1705, L, 'l'], ['ILC2s', 1134, 1608, L, 'l'], ['ILC3s', 1186, 1721, L, 'l'],
  ['CD90.2-FITC', 871, 1777, L, 'l'], ['RORγt-BV421', 1112, 1777, L, 'l']
];
const anchors = { c: 'translate(-50%,-50%)', l: 'translate(0,-50%)', r: 'translate(-50%,-50%) rotate(-90deg)' };
texts.forEach(([html, x, y, size, anchor, extra]) => {
  const d = document.createElement('div');
  d.className = 't';
  d.innerHTML = html;
  d.style.cssText = 'left:' + x + 'px;top:' + y + 'px;font-size:' + size + 'px;transform:' + anchors[anchor] + ';' + (extra || '');
  page.appendChild(d);
});

// colour bar of the heat map
const bar = document.createElement('div');
bar.style.cssText = 'position:absolute;left:532px;top:952px;width:221px;height:16px;background:linear-gradient(90deg,#00ff00,#fff 50%,#ff0000)';
page.appendChild(bar);

// ---- overlay: legend swatches, rules, gating arrows ----
const swatches = [[60, 394, 24, 13, '#4050e8'], [60, 433, 24, 14, '#e06810']];
const legendDots = [[1082, 439, '#0000f0'], [1082, 477, '#e8701a']];
const rules = [[190, 109, 253, 109, 2.5], [642, 109, 705, 109, 2.5], [532, 627, 635, 627, 3], [647, 627, 751, 627, 3], [838, 632, 838, 925, 3]];
const redArrows = [
  [267, 1242, 409, 1242], [505, 1229, 648, 1229], [734, 1248, 877, 1248],
  [920, 1227, 966, 1363], [937, 1210, 1130, 1350], [1160, 1363, 1160, 1228], [1158, 1471, 1159, 1593], [1130, 1488, 996, 1612],
  [942, 1364, 240, 1364], [934, 1379, 509, 1379], [934, 1392, 773, 1392]
];
// corner x, corner y, tip of the up arrow, tip of the right arrow
const axisKeys = [
  [100, 1298, 1252, 152], [345, 1298, 1252, 396], [592, 1298, 1252, 644], [842, 1298, 1252, 892], [1078, 1298, 1262, 1109],
  [838, 1533, 1488, 890], [1070, 1533, 1488, 1121], [830, 1777, 1731, 860], [1078, 1777, 1731, 1109]
];
const smallArrows = [[98, 1535, 129], [354, 1535, 384], [593, 1535, 623]];

function head(x1, y1, x2, y2, len, half) {
  const a = Math.atan2(y2 - y1, x2 - x1);
  const bx = x2 - len * Math.cos(a), by = y2 - len * Math.sin(a);
  const nx = -Math.sin(a) * half, ny = Math.cos(a) * half;
  return { bx, by, pts: [x2, y2, bx + nx, by + ny, bx - nx, by - ny].join(',') };
}
let svg = '';
swatches.forEach(s => { svg += `<rect x="${s[0]}" y="${s[1]}" width="${s[2]}" height="${s[3]}" fill="${s[4]}"/>`; });
legendDots.forEach(d => { svg += `<circle cx="${d[0]}" cy="${d[1]}" r="6" fill="${d[2]}"/>`; });
rules.forEach(r => { svg += `<line x1="${r[0]}" y1="${r[1]}" x2="${r[2]}" y2="${r[3]}" stroke="#111" stroke-width="${r[4]}"/>`; });
axisKeys.forEach(k => {
  const up = head(k[0], k[1], k[0], k[2], 17, 9), right = head(k[0], k[1], k[3], k[1], 17, 9);
  svg += `<path d="M${k[0]} ${up.by}V${k[1]}H${right.bx}" fill="none" stroke="#111" stroke-width="2.4"/>`;
  svg += `<polygon points="${up.pts}" fill="#111"/><polygon points="${right.pts}" fill="#111"/>`;
});
smallArrows.forEach(a => {
  const h = head(a[0], a[1], a[2], a[1], 13, 8);
  svg += `<line x1="${a[0]}" y1="${a[1]}" x2="${h.bx}" y2="${a[1]}" stroke="#111" stroke-width="2.4"/><polygon points="${h.pts}" fill="#111"/>`;
});
redArrows.forEach(a => {
  const h = head(a[0], a[1], a[2], a[3], 18, 9.5);
  svg += `<line x1="${a[0]}" y1="${a[1]}" x2="${h.bx}" y2="${h.by}" stroke="#f21212" stroke-width="2.6"/><polygon points="${h.pts}" fill="#f81010"/>`;
});
const overlay = document.createElementNS('http://www.w3.org/2000/svg', 'svg');
overlay.id = 'overlay';
overlay.setAttribute('width', 1437);
overlay.setAttribute('height', 1800);
overlay.innerHTML = svg;
page.appendChild(overlay);
</script>
</body>
</html>
